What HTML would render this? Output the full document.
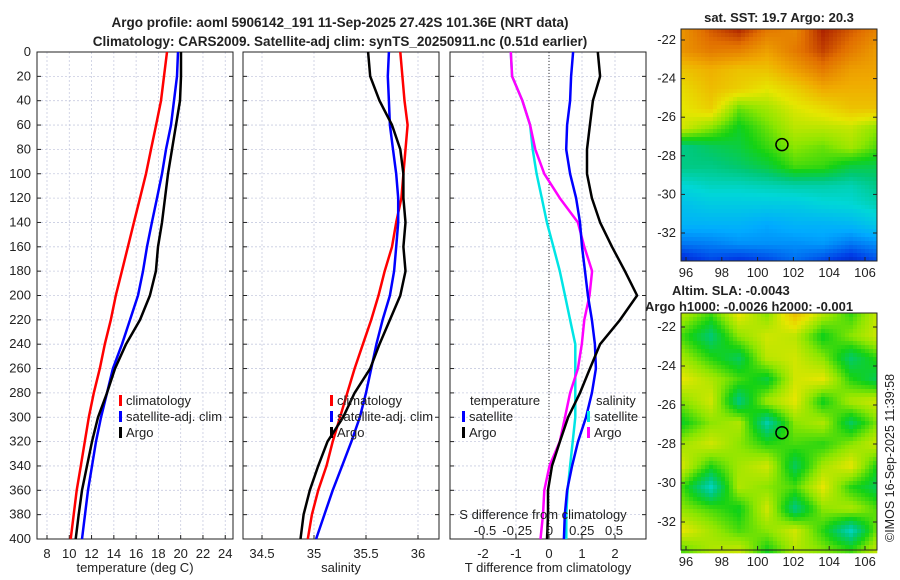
<!DOCTYPE html>
<html><head><meta charset="utf-8"><style>
body{margin:0;background:#fff;}
svg{display:block;font-family:"Liberation Sans","DejaVu Sans",sans-serif;}
</style></head><body>
<svg id="fig" width="900" height="580" viewBox="0 0 900 580"></svg>
<script>
const depths=[0,20,40,60,80,100,120,140,160,180,200,220,240,260,280,300,320,340,360,380,400];
// temperature (deg C)
const tClim=[18.77,18.5,18.23,17.79,17.34,16.89,16.35,15.8,15.26,14.72,14.18,13.73,13.19,12.74,12.2,11.75,11.39,11.03,10.67,10.4,10.13];
const tSat=[19.76,19.67,19.4,19.13,18.68,18.32,17.87,17.42,16.98,16.62,16.17,15.45,14.73,13.92,13.39,12.85,12.4,12.04,11.68,11.41,11.14];
const tArgo=[20.03,20.03,19.94,19.58,19.22,18.86,18.59,18.32,17.96,17.78,17.24,16.35,15.09,14.1,13.39,12.58,12.04,11.59,11.14,10.85,10.58];
// salinity
const sClim=[35.83,35.85,35.87,35.9,35.88,35.86,35.84,35.79,35.75,35.68,35.62,35.55,35.47,35.39,35.32,35.25,35.18,35.12,35.04,34.98,34.94];
const sSat=[35.72,35.71,35.72,35.73,35.76,35.79,35.81,35.81,35.79,35.77,35.73,35.66,35.6,35.55,35.5,35.44,35.36,35.27,35.18,35.1,35.02];
const sArgo=[35.52,35.54,35.63,35.75,35.83,35.86,35.86,35.88,35.86,35.88,35.83,35.73,35.63,35.54,35.39,35.28,35.13,35.04,34.96,34.9,34.87];
// differences from climatology
const dTsat=[0.73,0.67,0.64,0.55,0.52,0.64,0.82,0.94,1.0,1.09,1.18,1.3,1.39,1.42,1.3,1.12,0.88,0.7,0.55,0.48,0.45];
const dTargo=[1.48,1.55,1.33,1.24,1.15,1.15,1.3,1.55,1.91,2.3,2.67,2.15,1.55,1.24,0.94,0.58,0.33,0.09,-0.03,-0.03,-0.06];
const dSsat=[-0.3,-0.29,-0.21,-0.15,-0.13,-0.1,-0.06,-0.02,0.03,0.08,0.12,0.16,0.2,0.2,0.2,0.2,0.18,0.16,0.14,0.13,0.13];
const dSargo=[-0.3,-0.29,-0.21,-0.15,-0.11,-0.04,0.08,0.22,0.27,0.33,0.31,0.27,0.25,0.22,0.16,0.12,0.08,0.0,-0.04,-0.05,-0.07];
const tTicks=[8,10,12,14,16,18,20,22,24];
const sTicks=[34.5,35,35.5,36];
const dTTicks=[-2,-1,0,1,2];
const dSTicks=[-0.5,-0.25,0,0.25,0.5];
const dSTickLabels=["-0.5","-0.25","0","0.25","0.5"];
const depthTicks=[0,20,40,60,80,100,120,140,160,180,200,220,240,260,280,300,320,340,360,380,400];
const lonTicks=[96,98,100,102,104,106];
const latTicks=[-22,-24,-26,-28,-30,-32];
// SST map grid (normalised colour values, rows north->south, cols west->east)
const sstGrid=[
[0.82,0.9,0.95,0.86,0.84,0.96,0.9,0.84],
[0.82,0.86,0.85,0.8,0.86,0.93,0.86,0.8],
[0.74,0.77,0.74,0.74,0.8,0.86,0.8,0.79],
[0.7,0.75,0.72,0.68,0.72,0.78,0.77,0.77],
[0.68,0.72,0.58,0.62,0.67,0.7,0.74,0.74],
[0.66,0.6,0.52,0.58,0.64,0.64,0.65,0.6],
[0.45,0.48,0.5,0.55,0.6,0.58,0.62,0.56],
[0.45,0.45,0.47,0.5,0.56,0.55,0.5,0.49],
[0.38,0.4,0.4,0.41,0.42,0.42,0.41,0.45],
[0.33,0.35,0.35,0.35,0.35,0.37,0.38,0.41],
[0.3,0.3,0.3,0.28,0.3,0.3,0.31,0.35],
[0.22,0.23,0.25,0.25,0.25,0.26,0.22,0.25],
[0.1,0.15,0.12,0.15,0.2,0.15,0.1,0.17]];
// SLA map grid
const slaGrid=[
[0.63,0.55,0.68,0.6,0.74,0.63,0.55,0.66],
[0.55,0.46,0.6,0.66,0.64,0.52,0.6,0.66],
[0.62,0.54,0.48,0.64,0.66,0.6,0.47,0.55],
[0.68,0.63,0.56,0.5,0.66,0.68,0.54,0.48],
[0.6,0.66,0.45,0.62,0.68,0.52,0.63,0.66],
[0.52,0.6,0.63,0.42,0.6,0.63,0.48,0.6],
[0.62,0.66,0.6,0.54,0.56,0.54,0.6,0.66],
[0.66,0.54,0.62,0.66,0.48,0.62,0.68,0.52],
[0.55,0.4,0.63,0.6,0.56,0.68,0.54,0.48],
[0.6,0.56,0.52,0.66,0.45,0.6,0.63,0.56],
[0.68,0.62,0.56,0.6,0.66,0.54,0.4,0.6],
[0.56,0.63,0.66,0.52,0.63,0.6,0.56,0.66]];
const argoLon=101.36, argoLat=-27.42;

const NS="http://www.w3.org/2000/svg";
const svg=document.getElementById('fig');
function el(tag,attrs,parent,text){const e=document.createElementNS(NS,tag);for(const k in attrs)e.setAttribute(k,attrs[k]);if(text!==undefined)e.textContent=text;(parent||svg).appendChild(e);return e;}
const PT=52, PB=539;
const yD=d=>PT+(d/400)*(PB-PT);
const panels=[{x0:37,x1:233},{x0:243,x1:439},{x0:450,x1:646}];
const xT=v=>47+(v-8)*11.14;
const xS=v=>314+(v-35)*104;
const xDT=v=>549+v*33;
const xDS=v=>549.5+v*129;

function gridAndFrame(p,xt,xf,name){
  const g=el('g',{});
  
  
  depthTicks.forEach(d=>{el('line',{x1:p.x0,x2:p.x1,y1:yD(d),y2:yD(d),stroke:'#c8cce0','stroke-width':0.8,'stroke-dasharray':'2,2'},g);});
  xt.forEach(v=>{el('line',{x1:xf(v),x2:xf(v),y1:PT,y2:PB,stroke:'#c8cce0','stroke-width':0.8,'stroke-dasharray':'2,2'},g);
    el('line',{x1:xf(v),x2:xf(v),y1:PB,y2:PB-4,stroke:'#222'},g);});
  depthTicks.forEach(d=>{el('line',{x1:p.x0,x2:p.x0+4,y1:yD(d),y2:yD(d),stroke:'#222'},g);el('line',{x1:p.x1,x2:p.x1-4,y1:yD(d),y2:yD(d),stroke:'#222'},g);});
  el('rect',{x:p.x0,y:PT,width:p.x1-p.x0,height:PB-PT,fill:'none',stroke:'#222','stroke-width':1},g);
  return g;
}
function line(vals,xf,color,name){
  const pts=vals.map((v,i)=>xf(v).toFixed(1)+','+yD(depths[i]).toFixed(1)).join(' ');
  const e=el('polyline',{points:pts,fill:'none',stroke:color,'stroke-width':2.5,'stroke-linejoin':'round'});
  
  
}
function txt(x,y,s,opt,name){
  const e=el('text',Object.assign({x:x,y:y,'font-size':13,fill:'#222'},opt||{}),svg,s);
  if(name){}
  return e;
}
txt(340,27,'Argo profile: aoml 5906142_191 11-Sep-2025 27.42S 101.36E (NRT data)',{'text-anchor':'middle','font-weight':'bold','font-size':13.5},'title-line-1');
txt(340,46,'Climatology: CARS2009. Satellite-adj clim: synTS_20250911.nc (0.51d earlier)',{'text-anchor':'middle','font-weight':'bold','font-size':13.5},'title-line-2');

depthTicks.forEach(d=>txt(31,yD(d)+4,String(d),{'text-anchor':'end'},'depth-tick-label'));

gridAndFrame(panels[0],tTicks,xT,'temperature-panel');
tTicks.forEach(v=>txt(xT(v),558,String(v),{'text-anchor':'middle'},'temperature-tick-label'));
txt(135,572,'temperature (deg C)',{'text-anchor':'middle'},'temperature-axis-title');
line(tClim,xT,'#ff0000','temperature-climatology-line');
line(tSat,xT,'#0000ff','temperature-satellite-line');
line(tArgo,xT,'#000000','temperature-argo-line');
function legend(x,y,color,label,name){
  const g=el('g',{});
  el('rect',{x:x,y:y-10,width:3,height:11,fill:color},g);
  el('text',{x:x+7,y:y,'font-size':13,fill:'#222'},g,label);
}
legend(119,405,'#ff0000','climatology','legend-climatology');
legend(119,421,'#0000ff','satellite-adj. clim','legend-satellite-adj');
legend(119,437,'#000000','Argo','legend-argo');

gridAndFrame(panels[1],sTicks,xS,'salinity-panel');
sTicks.forEach(v=>txt(xS(v),558,String(v),{'text-anchor':'middle'},'salinity-tick-label'));
txt(341,572,'salinity',{'text-anchor':'middle'},'salinity-axis-title');
line(sClim,xS,'#ff0000','salinity-climatology-line');
line(sSat,xS,'#0000ff','salinity-satellite-line');
line(sArgo,xS,'#000000','salinity-argo-line');
legend(330,405,'#ff0000','climatology','legend-climatology-2');
legend(330,421,'#0000ff','satellite-adj. clim','legend-satellite-adj-2');
legend(330,437,'#000000','Argo','legend-argo-2');

gridAndFrame(panels[2],dTTicks,xDT,'difference-panel');
el('line',{x1:xDT(0),x2:xDT(0),y1:PT,y2:PB,stroke:'#333','stroke-width':1,'stroke-dasharray':'1,2'});
dTTicks.forEach(v=>txt(xDT(v),558,String(v),{'text-anchor':'middle'},'t-diff-tick-label'));
txt(548,572,'T difference from climatology',{'text-anchor':'middle'},'t-diff-axis-title');
line(dSsat,xDS,'#00e5e5','s-diff-satellite-line');
line(dSargo,xDS,'#ff00ff','s-diff-argo-line');
line(dTsat,xDT,'#0000ff','t-diff-satellite-line');
line(dTargo,xDT,'#000000','t-diff-argo-line');
dSTicks.forEach((v,i)=>txt(xDS(v),535,dSTickLabels[i],{'text-anchor':'middle'},'s-diff-tick-label'));
txt(543,519,'S difference from climatology',{'text-anchor':'middle'},'s-diff-axis-title');
txt(470,405,'temperature',{},'legend-temperature-header');
legend(462,421,'#0000ff','satellite','legend-t-satellite');
legend(462,437,'#000000','Argo','legend-t-argo');
txt(596,405,'salinity',{},'legend-salinity-header');
legend(587,421,'#00e5e5','satellite','legend-s-satellite');
legend(587,437,'#ff00ff','Argo','legend-s-argo');

// colormap
const cmapStops=[[0,[0,0,130]],[0.15,[0,60,230]],[0.28,[0,170,255]],[0.38,[0,215,215]],[0.46,[0,200,120]],[0.53,[20,210,20]],[0.6,[140,230,0]],[0.68,[230,230,0]],[0.78,[240,170,0]],[0.88,[225,110,0]],[1,[150,0,0]]];
function cmap(v){
  v=Math.max(0,Math.min(1,v));
  for(let i=1;i<cmapStops.length;i++){
    if(v<=cmapStops[i][0]){
      const a=cmapStops[i-1],b=cmapStops[i],t=(v-a[0])/(b[0]-a[0]);
      return 'rgb('+a[1].map((c,k)=>Math.round(c+(b[1][k]-c)*t)).join(',')+')';
    }
  }
  return 'rgb(150,0,0)';
}
function sample(grid,fx,fy){
  const R=grid.length,C=grid[0].length;
  const gx=fx*(C-1),gy=fy*(R-1);
  const i=Math.min(R-2,Math.floor(gy)),j=Math.min(C-2,Math.floor(gx));
  const a=gy-i,b=gx-j;
  return grid[i][j]*(1-a)*(1-b)+grid[i][j+1]*(1-a)*b+grid[i+1][j]*a*(1-b)+grid[i+1][j+1]*a*b;
}
function map(m){
  const g=el('g',{});
  const cw=4,ch=4;
  for(let y=m.y0;y<m.y1;y+=ch)for(let x=m.x0;x<m.x1;x+=cw){
    const v=sample(m.grid,(x-m.x0)/(m.x1-m.x0),(y-m.y0)/(m.y1-m.y0));
    el('rect',{x:x,y:y,width:cw+0.3,height:ch+0.3,fill:cmap(v)},g);
  }
  el('rect',{x:m.x0,y:m.y0,width:m.x1-m.x0,height:m.y1-m.y0,fill:'none',stroke:'#222'},g);
  const lx=v=>686+(v-96)*17.9, ly=v=>m.lat22+(-22-v)*m.dlat;
  lonTicks.forEach(v=>{el('line',{x1:lx(v),x2:lx(v),y1:m.y1,y2:m.y1-4,stroke:'#222'},g);el('text',{x:lx(v),y:m.y1+16,'text-anchor':'middle','font-size':13,fill:'#222'},g,String(v));});
  latTicks.forEach(v=>{el('line',{x1:m.x0,x2:m.x0+4,y1:ly(v),y2:ly(v),stroke:'#222'},g);el('line',{x1:m.x1,x2:m.x1-4,y1:ly(v),y2:ly(v),stroke:'#222'},g);el('text',{x:m.x0-5,y:ly(v)+4,'text-anchor':'end','font-size':13,fill:'#222'},g,String(v));});
  const c=el('ellipse',{cx:lx(argoLon),cy:ly(argoLat),rx:6,ry:6,fill:'none',stroke:'#000','stroke-width':1.5},g);
  
  
}
map({name:'sst-map',grid:sstGrid,x0:681,x1:877,y0:29,y1:261,lat22:40,dlat:19.3});
map({name:'sla-map',grid:slaGrid,x0:681,x1:877,y0:313,y1:550,lat22:327,dlat:19.5});
txt(779,22,'sat. SST: 19.7 Argo: 20.3',{'text-anchor':'middle','font-weight':'bold'},'sst-map-title');
txt(672,295,'Altim. SLA: -0.0043',{'font-weight':'bold'},'sla-map-title');
txt(645,311,'Argo h1000: -0.0026 h2000: -0.001',{'font-weight':'bold'},'sla-map-subtitle');
txt(0,0,'©IMOS 16-Sep-2025 11:39:58',{transform:'translate(894,542) rotate(-90)','font-size':12.5},'imos-timestamp');
</script>
</body></html>
